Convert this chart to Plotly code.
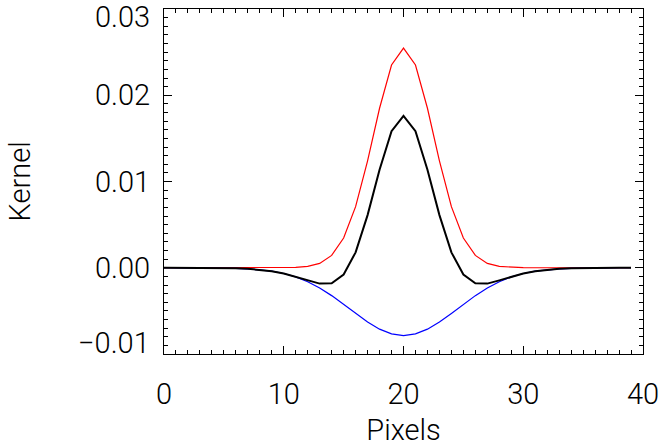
import plotly.graph_objects as go

pixels = list(range(40))

red_kernel = [0.0, 0.0, 0.0, 0.0, 0.0, 0.0, 0.0, 0.0, 0.00000025, 0.0000016,
              0.0000085, 0.000039, 0.000152, 0.000505, 0.00143, 0.00345, 0.00708, 0.01240, 0.01849, 0.02351,
              0.02547, 0.02351, 0.01849, 0.01240, 0.00708, 0.00345, 0.00143, 0.000505, 0.000152, 0.000039,
              0.0000085, 0.0000016, 0.00000025, 0.0, 0.0, 0.0, 0.0, 0.0, 0.0, 0.0]

blue_kernel = [-0.0000004, -0.0000011, -0.0000026, -0.0000063, -0.0000141, -0.0000304, -0.0000622, -0.000121, -0.000225, -0.000396,
               -0.000665, -0.001064, -0.001619, -0.002344, -0.003231, -0.004240, -0.005295, -0.006293, -0.007120, -0.007668,
               -0.007860, -0.007668, -0.007120, -0.006293, -0.005295, -0.004240, -0.003231, -0.002344, -0.001619, -0.001064,
               -0.000665, -0.000396, -0.000225, -0.000121, -0.0000622, -0.0000304, -0.0000141, -0.0000063, -0.0000026, -0.0000011]

black_kernel = [-0.0000004, -0.0000011, -0.0000026, -0.0000063, -0.0000141, -0.0000304, -0.0000622, -0.000121, -0.000224, -0.000395,
                -0.000657, -0.001025, -0.001466, -0.001839, -0.001802, -0.000793, 0.001786, 0.006102, 0.011371, 0.015839,
                0.017606, 0.015839, 0.011371, 0.006102, 0.001786, -0.000793, -0.001802, -0.001839, -0.001466, -0.001025,
                -0.000657, -0.000395, -0.000224, -0.000121, -0.0000622, -0.0000304, -0.0000141, -0.0000063, -0.0000026, -0.0000011]

x_ticks = [0, 10, 20, 30, 40]
y_ticks = [-0.01, 0.0, 0.01, 0.02, 0.03]
y_tick_labels = ["\u22120.01", "0.00", "0.01", "0.02", "0.03"]

font_family = "Roboto"
fsize = 29
tfont = dict(family=font_family, size=fsize, color="#000000", weight=300)

fig = go.Figure()
fig.add_trace(go.Scatter(x=pixels, y=red_kernel, mode="lines",
                         line=dict(color="#ff0000", width=1.2), showlegend=False))
fig.add_trace(go.Scatter(x=pixels, y=blue_kernel, mode="lines",
                         line=dict(color="#0000ff", width=1.2), showlegend=False))
fig.add_trace(go.Scatter(x=pixels, y=black_kernel, mode="lines",
                         line=dict(color="#000000", width=2), showlegend=False))

axis_common = dict(
    showgrid=False, zeroline=False, showline=True, linecolor="#000000", linewidth=1,
    mirror="ticks", ticks="inside", tickcolor="#000000", tickwidth=1,
    ticklabeloverflow="allow", automargin=False,
    tickfont=tfont,
)

fig.update_xaxes(range=[0, 40], tickvals=x_ticks, ticklen=8, ticklabelstandoff=14,
                 minor=dict(dtick=1, ticks="inside", ticklen=4, tickcolor="#000000", showgrid=False),
                 title=dict(text="Pixels", font=tfont, standoff=11),
                 **axis_common)
fig.update_yaxes(range=[-0.01, 0.0300001], tickvals=y_ticks, showticklabels=False, ticklen=8,
                 minor=dict(dtick=0.001, ticks="inside", ticklen=4, tickcolor="#000000", showgrid=False),
                 **axis_common)

# y tick labels (ends nudged inward, as in the reference)
n = len(y_ticks)
for i, (v, lab) in enumerate(zip(y_ticks, y_tick_labels)):
    shift = 0
    if i == 0:
        shift = 11
    elif i == n - 1:
        shift = -8
    fig.add_annotation(x=0, xref="paper", y=v, yref="y", text=lab, showarrow=False,
                       xanchor="right", yanchor="middle", xshift=-12, yshift=shift,
                       font=tfont)

fig.add_annotation(x=0, xref="paper", y=0.5, yref="paper", text="Kernel", showarrow=False,
                   textangle=-90, xanchor="center", yanchor="middle", xshift=-145,
                   font=tfont)

fig.update_layout(
    width=663, height=447,
    margin=dict(l=164, r=20, t=9, b=93),
    plot_bgcolor="#ffffff", paper_bgcolor="#ffffff",
)

fig.write_html("out.html")
